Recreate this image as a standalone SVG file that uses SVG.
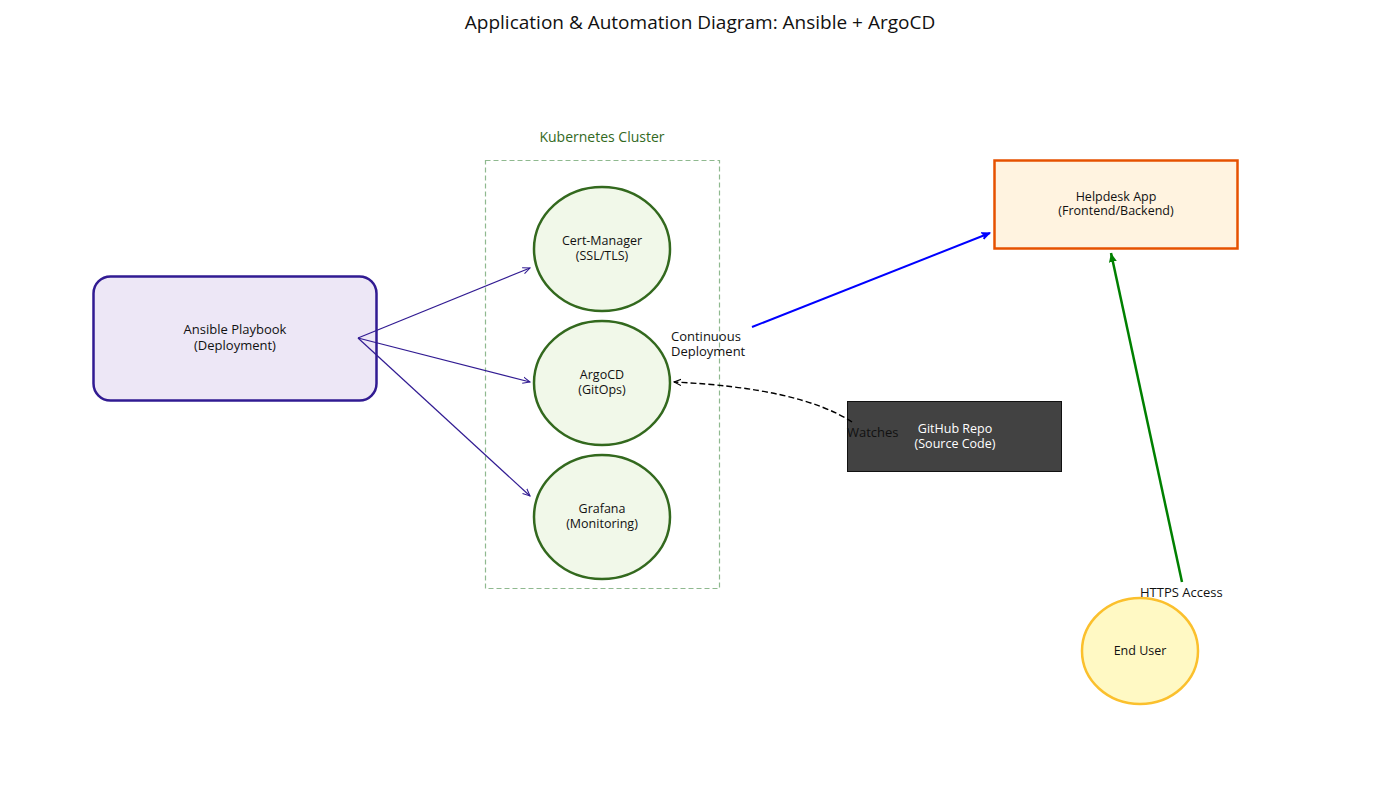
<svg xmlns="http://www.w3.org/2000/svg" width="1400" height="800" viewBox="0 0 1400 800">
<style>
text{font-family:"Open Sans","Roboto","Liberation Sans",sans-serif;fill:#111}
.lbl{font-size:12.5px;text-anchor:middle}
.el{font-size:13px}
.svc{fill:#f1f8e9;stroke:#33691e;stroke-width:2.5}
</style>
<defs>
<marker id="aP" viewBox="0 0 10 10" refX="9" refY="5" markerWidth="8" markerHeight="8" markerUnits="userSpaceOnUse" orient="auto"><path d="M0,1 L9,5 L0,9" fill="none" stroke="#311b92" stroke-width="1.3"/></marker>
<marker id="aB" viewBox="0 0 10 10" refX="9" refY="5" markerWidth="9" markerHeight="9" markerUnits="userSpaceOnUse" orient="auto"><path d="M0,1 L9,5 L0,9 L2,5 Z" fill="blue" stroke="blue" stroke-width="1"/></marker>
<marker id="aK" viewBox="0 0 10 10" refX="9" refY="5" markerWidth="8" markerHeight="8" markerUnits="userSpaceOnUse" orient="auto"><path d="M0,1 L9,5 L0,9" fill="none" stroke="#000" stroke-width="1.4"/></marker>
<marker id="aG" viewBox="0 0 10 10" refX="9" refY="5" markerWidth="10" markerHeight="10" markerUnits="userSpaceOnUse" orient="auto"><path d="M0,1 L9,5 L0,9 Z" fill="green"/></marker>
</defs>
<rect width="1400" height="800" fill="#fff"/>
<text x="700" y="29" text-anchor="middle" font-size="19">Application &amp; Automation Diagram: Ansible + ArgoCD</text>

<g id="cluster">
<rect x="485.5" y="160.5" width="234" height="428" fill="none" stroke="#8fb98f" stroke-width="1.2" stroke-dasharray="5,3"/>
<text x="602" y="142" text-anchor="middle" font-size="14" style="fill:#33691e">Kubernetes Cluster</text>
</g>

<g id="ansible">
<rect x="93.5" y="276.5" width="283" height="124" rx="17" fill="#ede7f6" stroke="#311b92" stroke-width="2.5"/>
<text class="el" x="235" y="334" text-anchor="middle">Ansible Playbook</text>
<text class="el" x="235" y="350" text-anchor="middle">(Deployment)</text>
</g>

<g id="certmanager">
<ellipse class="svc" cx="602" cy="249" rx="68" ry="62"/>
<text class="lbl" x="602" y="245">Cert-Manager</text>
<text class="lbl" x="602" y="260">(SSL/TLS)</text>
</g>
<g id="argocd">
<ellipse class="svc" cx="602" cy="383" rx="68" ry="62"/>
<text class="lbl" x="602" y="379">ArgoCD</text>
<text class="lbl" x="602" y="394">(GitOps)</text>
</g>
<g id="grafana">
<ellipse class="svc" cx="602" cy="517" rx="68" ry="62"/>
<text class="lbl" x="602" y="513">Grafana</text>
<text class="lbl" x="602" y="528">(Monitoring)</text>
</g>

<g id="helpdesk">
<rect x="994.5" y="160.5" width="243" height="88" fill="#fff3e0" stroke="#e65100" stroke-width="2.5"/>
<text class="lbl" x="1116" y="201">Helpdesk App</text>
<text class="lbl" x="1116" y="215">(Frontend/Backend)</text>
</g>

<g id="github">
<rect x="847.5" y="401.5" width="214" height="70" fill="#424242" stroke="#111" stroke-width="1"/>
<text class="lbl" x="955" y="433" style="fill:#fff">GitHub Repo</text>
<text class="lbl" x="955" y="448" style="fill:#fff">(Source Code)</text>
</g>

<g id="enduser">
<ellipse cx="1140" cy="651" rx="58" ry="53" fill="#fff9c4" stroke="#fbc02d" stroke-width="2.5"/>
<text class="lbl" x="1140" y="655">End User</text>
</g>

<g id="connectors">
<line x1="358" y1="338" x2="530" y2="268" stroke="#311b92" stroke-width="1.2" marker-end="url(#aP)"/>
<line x1="358" y1="338" x2="530" y2="382" stroke="#311b92" stroke-width="1.2" marker-end="url(#aP)"/>
<line x1="358" y1="338" x2="530" y2="496" stroke="#311b92" stroke-width="1.2" marker-end="url(#aP)"/>
<line x1="752" y1="327" x2="990" y2="233" stroke="blue" stroke-width="2" marker-end="url(#aB)"/>
<text class="el" x="671" y="341">Continuous</text>
<text class="el" x="671" y="356">Deployment</text>
<path d="M852,422 Q800,388 674,382" fill="none" stroke="#000" stroke-width="1.4" stroke-dasharray="6,3" marker-end="url(#aK)"/>
<text class="el" x="847" y="437">Watches</text>
<line x1="1182" y1="582" x2="1111" y2="253" stroke="green" stroke-width="2.5" marker-end="url(#aG)"/>
<text class="el" x="1140" y="597">HTTPS Access</text>
</g>
</svg>
